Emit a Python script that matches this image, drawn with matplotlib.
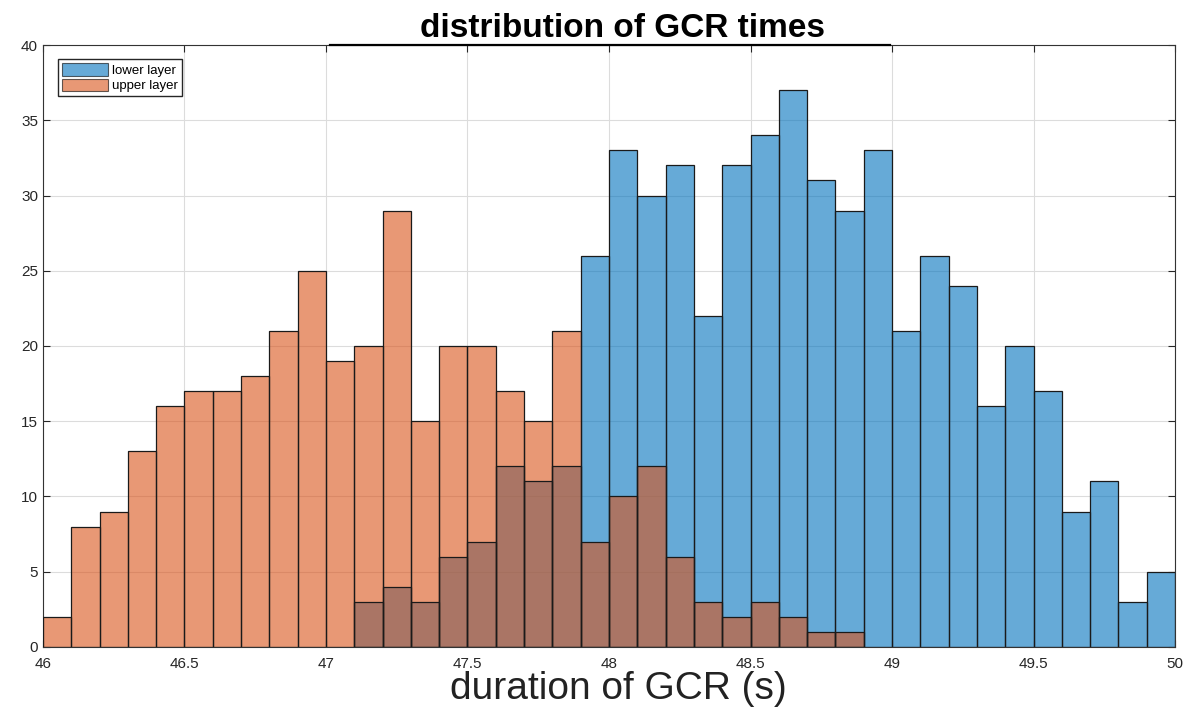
"""
Distribution of GCR times, lower vs upper layer
"""
import numpy as np
import matplotlib.pyplot as plt

plt.rcParams['font.family'] = ['Liberation Sans', 'DejaVu Sans']

# bin edges 46.0 .. 50.0 step 0.1
bin_width = 0.1

lower_start = 47.1
lower_counts = [3, 4, 3, 6, 7, 12, 11, 12, 26, 33,
                30, 32, 22, 32, 34, 37, 31, 29, 33, 21,
                26, 24, 16, 20, 17, 9, 11, 3, 5]

upper_start = 46.0
upper_counts = [2, 8, 9, 13, 16, 17, 17, 18, 21, 25,
                19, 20, 29, 15, 20, 20, 17, 15, 21, 7,
                10, 12, 6, 3, 2, 3, 2, 1, 1]

labels = ['lower layer', 'upper layer']
colors = [(0, 0.447, 0.741), (0.85, 0.325, 0.098)]
xticks = [46, 46.5, 47, 47.5, 48, 48.5, 49, 49.5, 50]
xticklabels = ['46', '46.5', '47', '47.5', '48', '48.5', '49', '49.5', '50']

fig = plt.figure(figsize=(12, 7.24), dpi=100)
ax = fig.add_axes([0.0358, 0.1064, 0.9434, 0.8314])

for start, counts, lab, col in zip([lower_start, upper_start],
                                   [lower_counts, upper_counts],
                                   labels, colors):
    left = start + bin_width * np.arange(len(counts))
    ax.bar(left, counts, width=bin_width, align='edge', color=col,
           alpha=0.6, edgecolor='none', label=lab, zorder=2)
    # edges opaque like MATLAB
    ax.bar(left, counts, width=bin_width, align='edge', fill=False,
           edgecolor='#1a1a1a', linewidth=0.9, zorder=3)

ax.set_xlim(46, 50)
ax.set_ylim(0, 40)
ax.set_xticks(xticks)
ax.set_xticklabels(xticklabels)
ax.set_yticks(np.arange(0, 41, 5))
ax.grid(True, color='#dcdcdc', linewidth=0.8, zorder=0)
ax.set_axisbelow(True)
ax.tick_params(direction='in', top=True, right=True, labelsize=11,
               colors='#262626', length=5)
ax.tick_params(axis='x', pad=7)
for sp in ax.spines.values():
    sp.set_color('#333333')
    sp.set_linewidth(0.8)

# darker stroke under the title
ax.plot([0.2535, 0.748], [1, 1], transform=ax.transAxes, color='black',
        linewidth=1.6, clip_on=False, zorder=5)

ax.set_title('distribution of GCR times', fontsize=24, fontweight='bold',
             x=0.512, pad=6)
ax.set_xlabel('duration of GCR (s)', fontsize=28, color='#222222',
              labelpad=0, x=0.508)

leg = ax.legend(loc='upper left', fontsize=9.5, fancybox=False,
                framealpha=1, edgecolor='#262626', handlelength=3.5,
                handleheight=1.1, borderpad=0.3, labelspacing=0.1,
                handletextpad=0.3, borderaxespad=0,
                bbox_to_anchor=(0.0133, 0.976))
for h in leg.legend_handles:
    h.set_edgecolor('black')
    h.set_linewidth(0.8)

fig.savefig('out.png', dpi=100)
